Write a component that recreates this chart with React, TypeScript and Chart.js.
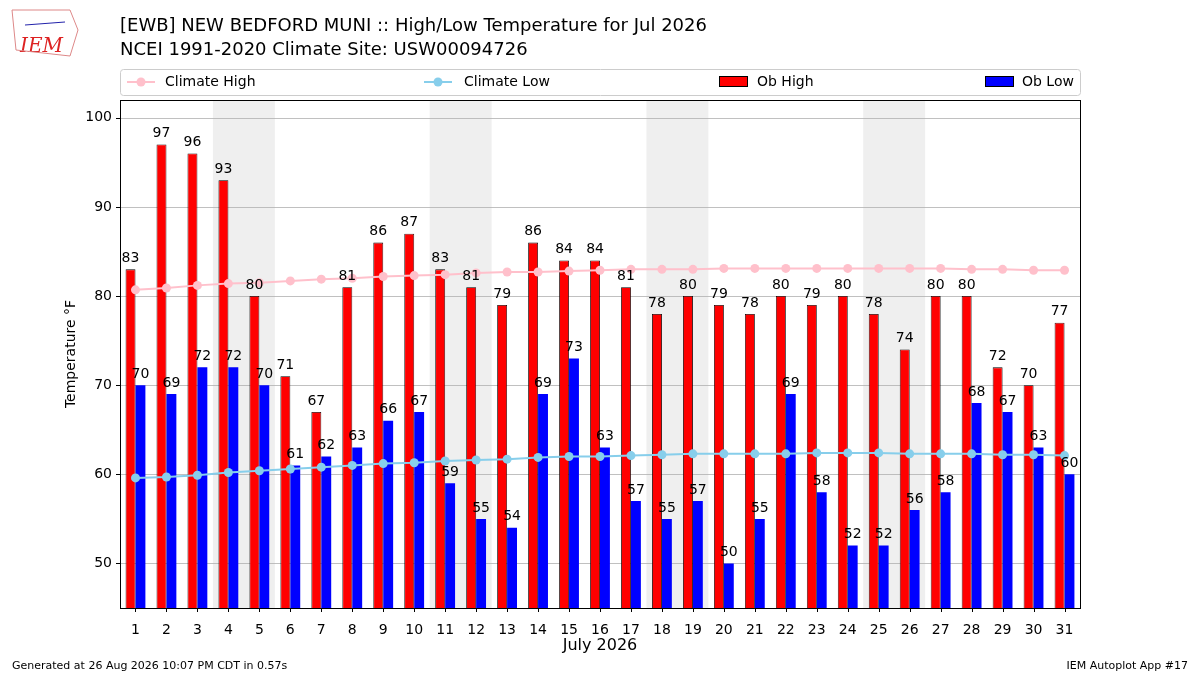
import React, { useEffect, useRef } from "react";
import { Chart, registerables } from "chart.js";
Chart.register(...registerables);

const days = Array.from({ length: 31 }, (_, i) => String(i + 1));
const obHigh = [83,97,96,93,80,71,67,81,86,87,83,81,79,86,84,84,81,78,80,79,78,80,79,80,78,74,80,80,72,70,77];
const obLow = [70,69,72,72,70,61,62,63,66,67,59,55,54,69,73,63,57,55,57,50,55,69,58,52,52,56,58,68,67,63,60];
const climHigh = [80.7,80.9,81.2,81.4,81.5,81.7,81.9,82.0,82.2,82.3,82.4,82.6,82.7,82.7,82.8,82.9,83.0,83.0,83.0,83.1,83.1,83.1,83.1,83.1,83.1,83.1,83.1,83.0,83.0,82.9,82.9];
const climLow = [59.6,59.7,59.9,60.2,60.4,60.6,60.8,61.0,61.2,61.3,61.5,61.6,61.7,61.9,62.0,62.0,62.1,62.2,62.3,62.3,62.3,62.3,62.4,62.4,62.4,62.3,62.3,62.3,62.2,62.2,62.1];
const weekendStarts = [3, 10, 17, 24];
const yTicks = [50, 60, 70, 80, 90, 100];

const F = "DejaVu Sans";

const overlay = {
  id: "overlay",
  beforeDatasetsDraw(c: any) {
    const { ctx, chartArea: a, scales } = c;
    ctx.save();
    ctx.fillStyle = "#efefef";
    const step = scales.x.getPixelForValue(1) - scales.x.getPixelForValue(0);
    for (const s of weekendStarts) {
      const x1 = scales.x.getPixelForValue(s) - step / 2;
      const x2 = scales.x.getPixelForValue(s + 1) + step / 2;
      ctx.fillRect(x1, a.top, x2 - x1, a.bottom - a.top);
    }
    ctx.strokeStyle = "#b0b0b0";
    ctx.lineWidth = 0.8;
    for (const t of yTicks) {
      const y = Math.round(scales.y.getPixelForValue(t)) + 0.5;
      ctx.beginPath(); ctx.moveTo(a.left, y); ctx.lineTo(a.right, y); ctx.stroke();
    }
    ctx.restore();
  },
  afterDatasetsDraw(c: any) {
    const { ctx, chartArea: a, scales } = c;
    ctx.save();
    ctx.font = `14px ${F}`;
    ctx.fillStyle = "#000";
    ctx.textAlign = "center";
    ctx.textBaseline = "bottom";
    [0, 1].forEach((di) => {
      const meta = c.getDatasetMeta(di);
      const vals = di === 0 ? obHigh : obLow;
      meta.data.forEach((el: any, i: number) => {
        ctx.fillText(String(vals[i]), el.x, el.y - 4);
      });
    });
    ctx.strokeStyle = "#000"; ctx.lineWidth = 1;
    ctx.strokeRect(a.left + 0.5, a.top + 0.5, a.right - a.left, a.bottom - a.top);
    ctx.beginPath();
    for (const t of yTicks) { const y = Math.round(scales.y.getPixelForValue(t)) + 0.5; ctx.moveTo(a.left - 4, y); ctx.lineTo(a.left, y); }
    for (let i = 0; i < 31; i++) { const x = Math.round(scales.x.getPixelForValue(i)) + 0.5; ctx.moveTo(x, a.bottom); ctx.lineTo(x, a.bottom + 4); }
    ctx.stroke();
    ctx.textBaseline = "alphabetic";
    ctx.font = `16px ${F}`;
    ctx.fillText("July 2026", (a.left + a.right) / 2, 650);
    ctx.save(); ctx.translate(75, (a.top + a.bottom) / 2); ctx.rotate(-Math.PI / 2);
    ctx.font = `14px ${F}`; ctx.fillText("Temperature °F", 0, 0); ctx.restore();
    ctx.textAlign = "left";
    ctx.font = `18px ${F}`;
    ctx.fillText("[EWB] NEW BEDFORD MUNI :: High/Low Temperature for Jul 2026", 120, 31);
    ctx.fillText("NCEI 1991-2020 Climate Site: USW00094726", 120, 55);
    ctx.font = `11px ${F}`;
    ctx.fillText("Generated at 26 Aug 2026 10:07 PM CDT in 0.57s", 12, 669);
    ctx.textAlign = "right";
    ctx.fillText("IEM Autoplot App #17", 1188, 669);
    ctx.textAlign = "left";
    ctx.fillStyle = "#d22"; ctx.font = `italic 20px "DejaVu Serif"`;
    ctx.fillText("IEM", 20, 52);
    ctx.strokeStyle = "#d88"; ctx.beginPath();
    ctx.moveTo(12, 10); ctx.lineTo(70, 10); ctx.lineTo(78, 30); ctx.lineTo(70, 56); ctx.lineTo(16, 50); ctx.closePath(); ctx.stroke();
    ctx.strokeStyle = "#22a"; ctx.beginPath(); ctx.moveTo(25, 25); ctx.lineTo(65, 22); ctx.stroke();
    ctx.strokeStyle = "#ccc"; ctx.lineWidth = 1;
    ctx.beginPath(); (ctx as any).roundRect(120.5, 69.5, 960, 26, 3); ctx.stroke();
    ctx.font = `14px ${F}`; ctx.textBaseline = "middle";
    const ly = 82;
    const line = (x: number, col: string) => {
      ctx.strokeStyle = col; ctx.lineWidth = 2;
      ctx.beginPath(); ctx.moveTo(x, ly); ctx.lineTo(x + 28, ly); ctx.stroke();
      ctx.fillStyle = col; ctx.beginPath(); ctx.arc(x + 14, ly, 4.5, 0, Math.PI * 2); ctx.fill();
    };
    line(127, "pink"); line(424, "skyblue");
    ctx.fillStyle = "#000";
    ctx.fillText("Climate High", 165, ly);
    ctx.fillText("Climate Low", 464, ly);
    ctx.lineWidth = 1; ctx.strokeStyle = "#000";
    ctx.fillStyle = "red"; ctx.fillRect(719, 76, 28, 10); ctx.strokeRect(719.5, 76.5, 28, 10);
    ctx.fillStyle = "blue"; ctx.fillRect(985, 76, 28, 10); ctx.strokeRect(985.5, 76.5, 28, 10);
    ctx.fillStyle = "#000";
    ctx.fillText("Ob High", 757, ly);
    ctx.fillText("Ob Low", 1022, ly);
    ctx.restore();
  },
};

export default function App() {
  const ref = useRef<HTMLCanvasElement>(null);
  useEffect(() => {
    const chart = new Chart(ref.current!, {
      type: "bar",
      data: {
        labels: days,
        datasets: [
          { type: "bar", label: "Ob High", data: obHigh, backgroundColor: "red", borderColor: "#000", borderWidth: 0.8, barPercentage: 1, categoryPercentage: 0.64, order: 2 },
          { type: "bar", label: "Ob Low", data: obLow, backgroundColor: "blue", borderColor: "#000", borderWidth: 0, barPercentage: 1, categoryPercentage: 0.64, order: 2 },
          { type: "line", label: "Climate High", data: climHigh, borderColor: "pink", backgroundColor: "pink", borderWidth: 2, pointRadius: 4.5, pointBorderWidth: 0, order: 1 } as any,
          { type: "line", label: "Climate Low", data: climLow, borderColor: "skyblue", backgroundColor: "skyblue", borderWidth: 2, pointRadius: 4.5, pointBorderWidth: 0, order: 1 } as any,
        ],
      },
      options: {
        animation: false,
        responsive: false,
        events: [],
        layout: { padding: { left: 0, right: 120, top: 100, bottom: 0 } },
        plugins: { legend: { display: false }, tooltip: { enabled: false } },
        scales: {
          x: {
            grid: { display: false },
            border: { display: false },
            ticks: { color: "#000", font: { family: F, size: 14 }, padding: 6 },
            afterFit: (s: any) => { s.height = 67; },
          },
          y: {
            min: 45, max: 102,
            afterBuildTicks: (s: any) => { s.ticks = yTicks.map((v) => ({ value: v })); },
            grid: { display: false },
            border: { display: false },
            ticks: { color: "#000", font: { family: F, size: 14 }, padding: 0 },
            afterFit: (s: any) => { s.width = 120; },
          },
        },
      },
      plugins: [overlay],
    });
    return () => chart.destroy();
  }, []);
  return <div style={{ position: "absolute", left: 0, top: 0, background: "#fff" }}><canvas ref={ref} width={1200} height={675} /></div>;
}
